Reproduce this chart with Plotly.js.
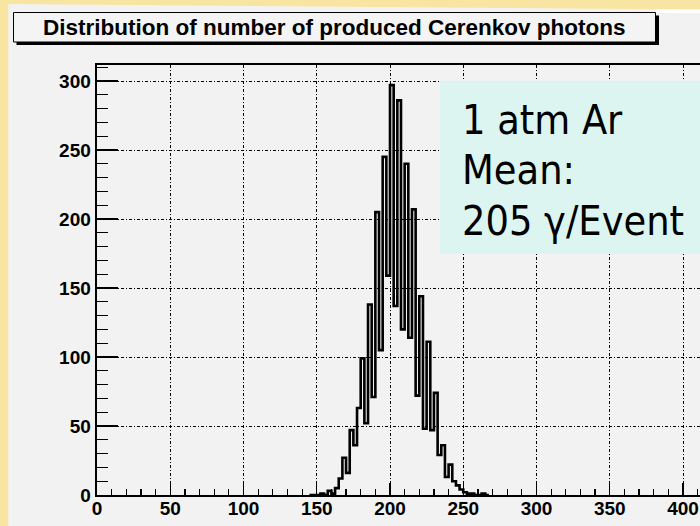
<!DOCTYPE html>
<html>
<head>
<meta charset="utf-8">
<script src="https://cdn.plot.ly/plotly-3.0.1.min.js"></script>
<style>
  html, body { margin: 0; padding: 0; background: #F8E5A1; }
  #chart { width: 700px; height: 526px; }
</style>
</head>
<body>
<div id="chart"></div>
<script>
// ---- data ----
const binEdges = [145, 147.5, 150, 152.5, 155, 157.5, 160, 162.5, 165, 167.5,
                  170, 172.5, 175, 177.5, 180, 182.5, 185, 187.5, 190, 192.5,
                  195, 197.5, 200, 202.5, 205, 207.5, 210, 212.5, 215, 217.5,
                  220, 222.5, 225, 227.5, 230, 232.5, 235, 237.5, 240, 242.5,
                  245, 247.5, 250, 252.5, 255, 257.5, 260, 262.5, 265, 267.5];
const counts = [0, 0, 0, 1, 0, 3, 1, 5, 12, 27,
                16, 47, 36, 63, 99, 52, 138, 71, 205, 105,
                245, 159, 297, 137, 286, 120, 240, 114, 207, 72,
                144, 48, 111, 47, 74, 29, 36, 13, 22, 10,
                7, 4, 2, 1, 1, 0, 0, 1, 0];
const xTickVals = [0, 50, 100, 150, 200, 250, 300, 350, 400];
const yTickVals = [0, 50, 100, 150, 200, 250, 300];
const titleText = "Distribution of number of produced Cerenkov photons";
const boxLines = ["1 atm Ar", "Mean:", "205 γ/Event"];

// ---- layout geometry (pixels) ----
const W = 700, H = 526;
const L = 97, T = 65, R = 0, B = 31;
const plotW = W - L - R, plotH = H - T - B;
const px = x => (x - L) / plotW;
const py = y => (H - B - y) / plotH;

const yStep = counts.concat([counts[counts.length - 1]]);

const trace = {
  type: 'scatter', mode: 'lines',
  x: binEdges, y: yStep,
  line: { shape: 'hv', color: '#000', width: 2.6 },
  hoverinfo: 'skip', cliponaxis: true
};

const tickFont = { family: 'Liberation Sans, Arial, sans-serif', size: 19, color: '#000', weight: 'bold' };

const layout = {
  width: W, height: H,
  margin: { l: L, r: R, t: T, b: B, pad: 0 },
  paper_bgcolor: '#F8E5A1',
  plot_bgcolor: '#F2F2F2',
  showlegend: false,
  font: { family: 'Liberation Sans, Arial, sans-serif', color: '#000' },
  xaxis: {
    range: [0, 411.6], fixedrange: true,
    tickvals: xTickVals, ticktext: xTickVals.map(String),
    ticks: 'inside', ticklen: 12, tickwidth: 1.2, tickcolor: '#000',
    showline: true, linecolor: '#000', linewidth: 2.4, mirror: true,
    showgrid: true, gridcolor: '#000', gridwidth: 1, griddash: '3px,2px,1px,2px',
    zeroline: false, tickfont: tickFont, ticklabelstandoff: -5,
    minor: { dtick: 10, ticks: 'inside', ticklen: 6, tickwidth: 1.2, tickcolor: '#000', showgrid: false }
  },
  yaxis: {
    range: [0, 311.6], fixedrange: true,
    tickvals: yTickVals, ticktext: yTickVals.map(String),
    ticks: 'inside', ticklen: 21, tickwidth: 1.2, tickcolor: '#000',
    showline: true, linecolor: '#000', linewidth: 2.4, mirror: false,
    showgrid: true, gridcolor: '#000', gridwidth: 1, griddash: '3px,2px,1px,2px',
    zeroline: false, tickfont: tickFont,
    minor: { dtick: 10, ticks: 'inside', ticklen: 11, tickwidth: 1.2, tickcolor: '#000', showgrid: false }
  },
  shapes: [
    // grey canvas over yellow slide background
    { type: 'path', xref: 'paper', yref: 'paper', layer: 'below',
      path: `M ${px(8.3)},${py(4)} L ${px(700)},${py(9.5)} L ${px(700)},${py(526)} L ${px(8.3)},${py(526)} Z`,
      fillcolor: '#F2F2F2', line: { width: 0 } },
    { type: 'rect', xref: 'paper', yref: 'paper', layer: 'above',
      x0: px(656), x1: px(700), y0: py(9.5), y1: py(13),
      fillcolor: '#FFFFFF', line: { width: 0 } },
    // title box shadow + box
    { type: 'rect', xref: 'paper', yref: 'paper', layer: 'above',
      x0: px(16.5), x1: px(659), y0: py(15.5), y1: py(45),
      fillcolor: '#000', line: { width: 0 } },
    { type: 'rect', xref: 'paper', yref: 'paper', layer: 'above',
      x0: px(13.5), x1: px(655.5), y0: py(12.5), y1: py(42),
      fillcolor: '#F4F4F4', line: { color: '#000', width: 1 } },
    // info box
    { type: 'rect', xref: 'paper', yref: 'paper', layer: 'above',
      x0: px(440), x1: px(702), y0: py(80.7), y1: py(254),
      fillcolor: '#DCF5F0', line: { width: 0 } }
  ],
  annotations: [
    { xref: 'paper', yref: 'paper', x: px(334), y: py(27.5), xanchor: 'center', yanchor: 'middle',
      text: titleText, showarrow: false,
      font: { family: 'Liberation Sans, Arial, sans-serif', size: 22.5, color: '#000', weight: 'bold' } }
  ].concat(boxLines.map((t, i) => ({
      xref: 'paper', yref: 'paper', x: px(460), y: py([119.5, 169.5, 221][i]),
      xanchor: 'left', yanchor: 'middle', align: 'left',
      text: t, showarrow: false,
      font: { family: 'DejaVu Sans Condensed, DejaVu Sans, sans-serif', size: 41, color: '#000' }
  })))
};

Plotly.newPlot('chart', [trace], layout, { displayModeBar: false, staticPlot: true });
</script>
</body>
</html>
